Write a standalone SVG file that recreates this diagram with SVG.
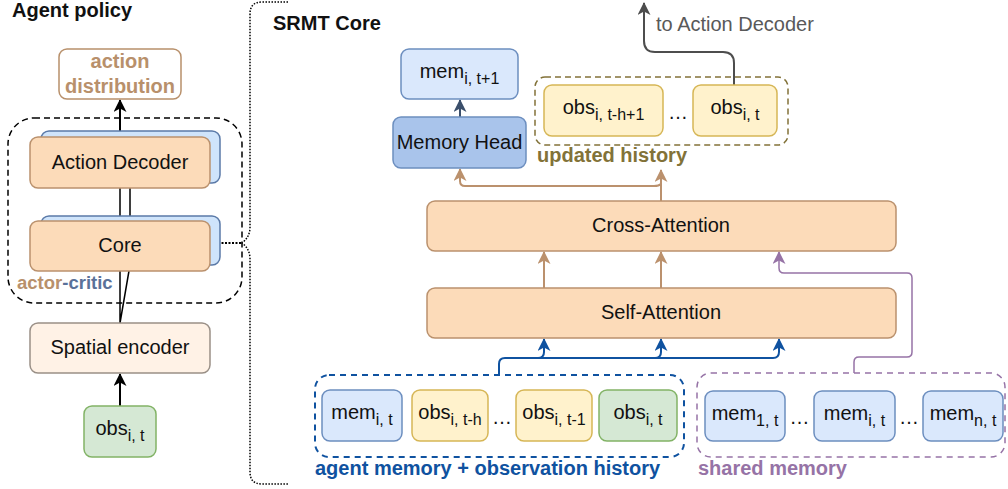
<svg xmlns="http://www.w3.org/2000/svg" width="1008" height="489" viewBox="0 0 1008 489">
<style>
text{font-family:"Liberation Sans",Arial,sans-serif;font-size:20px;fill:#111}
.b{font-weight:bold}
.c{text-anchor:middle}
.sub{font-size:16px}
.orange{fill:#fcdbb9;stroke:#ba916d;stroke-width:1.5}
.back{fill:#cfe4fb;stroke:#5b7aa8;stroke-width:1.5}
.mem{fill:#dae8fc;stroke:#6c8ebf;stroke-width:1.5}
.yel{fill:#fff2cc;stroke:#d6b656;stroke-width:1.5}
.grn{fill:#d5e8d4;stroke:#82b366;stroke-width:1.5}
.ln{fill:none;stroke-linejoin:round}
</style>
<defs>
<marker id="aBlack" viewBox="0 0 13 13" refX="12" refY="6.5" markerWidth="13" markerHeight="13" markerUnits="userSpaceOnUse" orient="auto"><path d="M0,0 L13,6.5 L0,13 L3.5,6.5 Z" fill="#000"/></marker>
<marker id="aTan" viewBox="0 0 13 13" refX="12" refY="6.5" markerWidth="13" markerHeight="13" markerUnits="userSpaceOnUse" orient="auto"><path d="M0,0 L13,6.5 L0,13 L3.5,6.5 Z" fill="#bb916d"/></marker>
<marker id="aBlue" viewBox="0 0 13 13" refX="12" refY="6.5" markerWidth="13" markerHeight="13" markerUnits="userSpaceOnUse" orient="auto"><path d="M0,0 L13,6.5 L0,13 L3.5,6.5 Z" fill="#0f52a0"/></marker>
<marker id="aPurple" viewBox="0 0 13 13" refX="12" refY="6.5" markerWidth="13" markerHeight="13" markerUnits="userSpaceOnUse" orient="auto"><path d="M0,0 L13,6.5 L0,13 L3.5,6.5 Z" fill="#9673a6"/></marker>
<marker id="aSlate" viewBox="0 0 13 13" refX="12" refY="6.5" markerWidth="13" markerHeight="13" markerUnits="userSpaceOnUse" orient="auto"><path d="M0,0 L13,6.5 L0,13 L3.5,6.5 Z" fill="#3b4f6b"/></marker>
<marker id="aGray" viewBox="0 0 13 13" refX="12" refY="6.5" markerWidth="13" markerHeight="13" markerUnits="userSpaceOnUse" orient="auto"><path d="M0,0 L13,6.5 L0,13 L3.5,6.5 Z" fill="#4d4d4d"/></marker>
</defs>

<!-- titles -->
<text class="b" x="12" y="17">Agent policy</text>
<text class="b" x="273" y="30">SRMT Core</text>

<!-- groupings -->
<g id="actor-critic-group">
<rect x="8" y="118" width="234" height="185" rx="26" fill="none" stroke="#000" stroke-width="1.5" stroke-dasharray="6 4"/>
<text class="b" x="17" y="289" style="font-size:18.5px"><tspan fill="#b8906b" style="fill:#b8906b">actor</tspan><tspan style="fill:#5a7199">-critic</tspan></text>
</g>
<g id="updated-history">
<rect x="535" y="77" width="253" height="68" rx="10" fill="none" stroke="#827238" stroke-width="1.5" stroke-dasharray="6 4"/>
<text class="b" x="537" y="161.5" style="fill:#827238">updated history</text>
</g>
<g id="agent-memory-group">
<rect x="315" y="375" width="369" height="82" rx="14" fill="none" stroke="#0f52a0" stroke-width="2" stroke-dasharray="6 5"/>
<text class="b" x="315" y="475" style="fill:#0f52a0">agent memory + observation history</text>
</g>
<g id="shared-memory-group">
<rect x="697" y="373" width="308" height="84" rx="14" fill="none" stroke="#9673a6" stroke-width="1.5" stroke-dasharray="6 5"/>
<text class="b" x="698" y="475" style="fill:#9673a6">shared memory</text>
</g>

<!-- connectors -->
<g id="connectors" class="ln">
<path d="M288,2 H262 Q250,2 250,14 V227 Q250,237 242,243 Q250,249 250,259 V472 Q250,484 262,484 H288" fill="none" stroke="#000" stroke-width="1.5" stroke-dasharray="1.5 1.5"/>
<path d="M218,243 H242" fill="none" stroke="#000" stroke-width="2" stroke-dasharray="2 1.5"/>
<path d="M120,137 V100" fill="none" stroke="#000" stroke-width="2" marker-end="url(#aBlack)"/>
<path d="M120,188 V221 M130,183 V216" fill="none" stroke="#000" stroke-width="1.5"/>
<path d="M120,323 V271 M120,323 L130,265" fill="none" stroke="#000" stroke-width="1.5"/>
<path d="M120,406 V374" fill="none" stroke="#000" stroke-width="2" marker-end="url(#aBlack)"/>
<path d="M460,117 V100" fill="none" stroke="#3b4f6b" stroke-width="2" marker-end="url(#aSlate)"/>
<path d="M734,85 V63 Q734,52 723,52 H655 Q644,52 644,41 V3" fill="none" stroke="#4d4d4d" stroke-width="2" marker-end="url(#aGray)"/>
<path d="M661,201 V170" fill="none" stroke="#bb916d" stroke-width="2" marker-end="url(#aTan)"/>
<path d="M661,184 Q659,186 654,186 H465 Q460,186 460,181 V169" fill="none" stroke="#bb916d" stroke-width="2" marker-end="url(#aTan)"/>
<path d="M544,288 V252" fill="none" stroke="#bb916d" stroke-width="2" marker-end="url(#aTan)"/>
<path d="M661,288 V252" fill="none" stroke="#bb916d" stroke-width="2" marker-end="url(#aTan)"/>
<path d="M854,373 V362 Q854,357 859,357 H907 Q912,357 912,352 V278 Q912,273 907,273 H784 Q779,273 779,268 V252" fill="none" stroke="#9673a6" stroke-width="1.5" marker-end="url(#aPurple)"/>
<path d="M499,375 V364 Q499,358 505,358 H773 Q779,358 779,352 V339" fill="none" stroke="#0f52a0" stroke-width="2" marker-end="url(#aBlue)"/>
<path d="M538,358 Q544,358 544,352 V339" fill="none" stroke="#0f52a0" stroke-width="2" marker-end="url(#aBlue)"/>
<path d="M655,358 Q661,358 661,352 V339" fill="none" stroke="#0f52a0" stroke-width="2" marker-end="url(#aBlue)"/>
</g>

<!-- left panel nodes -->
<g id="action-distribution">
<rect x="59" y="49" width="122" height="50" rx="8" fill="#fff" stroke="#b8906b" stroke-width="1.5"/>
<text class="b c" x="120" y="68" style="fill:#b8906b">action</text>
<text class="b c" x="120" y="92.5" style="fill:#b8906b">distribution</text>
</g>
<g id="action-decoder">
<rect class="back" x="41" y="131" width="179" height="52" rx="8"/>
<rect class="orange" x="30" y="137" width="180" height="51" rx="8"/>
<text class="c" x="120" y="169">Action Decoder</text>
</g>
<g id="core">
<rect class="back" x="41" y="216" width="179" height="49" rx="8"/>
<rect class="orange" x="30" y="221" width="180" height="50" rx="8"/>
<text class="c" x="120" y="252">Core</text>
</g>
<g id="spatial-encoder">
<rect x="30" y="323" width="180" height="50" rx="8" fill="#fff2e6" stroke="#9a9087" stroke-width="1.5"/>
<text class="c" x="120" y="354">Spatial encoder</text>
</g>
<g id="obs-left">
<rect class="grn" x="84" y="406" width="72" height="51" rx="8"/>
<text class="c" x="120" y="435">obs<tspan class="sub" dy="6">i, t</tspan></text>
</g>

<!-- SRMT core nodes -->
<g id="mem-next">
<rect class="mem" x="401" y="49" width="117" height="50" rx="8"/>
<text class="c" x="459.5" y="77.5">mem<tspan class="sub" dy="6">i, t+1</tspan></text>
</g>
<g id="memory-head">
<rect x="393" y="117" width="133" height="51" rx="8" fill="#a9c4eb" stroke="#6c8ebf" stroke-width="1.5"/>
<text class="c" x="459.5" y="149">Memory Head</text>
</g>
<g id="obs-hist-1">
<rect class="yel" x="544" y="85" width="119" height="51" rx="8"/>
<text class="c" x="603.5" y="114">obs<tspan class="sub" dy="6">i, t-h+1</tspan></text>
</g>
<text class="c" x="678" y="119">…</text>
<g id="obs-hist-2">
<rect class="yel" x="693" y="85" width="84" height="51" rx="8"/>
<text class="c" x="735" y="114">obs<tspan class="sub" dy="6">i, t</tspan></text>
</g>
<g id="cross-attention">
<rect class="orange" x="427" y="201" width="469" height="50" rx="8"/>
<text class="c" x="661" y="232">Cross-Attention</text>
</g>
<g id="self-attention">
<rect class="orange" x="427" y="288" width="469" height="50" rx="8"/>
<text class="c" x="661" y="319">Self-Attention</text>
</g>

<g id="mem-it">
<rect class="mem" x="322" y="390" width="80" height="51" rx="8"/>
<text class="c" x="362" y="419">mem<tspan class="sub" dy="6">i, t</tspan></text>
</g>
<g id="obs-t-h">
<rect class="yel" x="412" y="390" width="76" height="51" rx="8"/>
<text class="c" x="450" y="419">obs<tspan class="sub" dy="6">i, t-h</tspan></text>
</g>
<text class="c" x="502" y="424">…</text>
<g id="obs-t-1">
<rect class="yel" x="516" y="390" width="76" height="51" rx="8"/>
<text class="c" x="554" y="419">obs<tspan class="sub" dy="6">i, t-1</tspan></text>
</g>
<g id="obs-t">
<rect class="grn" x="599" y="390" width="78" height="51" rx="8"/>
<text class="c" x="638" y="419">obs<tspan class="sub" dy="6">i, t</tspan></text>
</g>
<g id="mem-1t">
<rect class="mem" x="705" y="391" width="80" height="50" rx="8"/>
<text class="c" x="745" y="419.5">mem<tspan class="sub" dy="6">1, t</tspan></text>
</g>
<text class="c" x="799.5" y="424">…</text>
<g id="mem-it-shared">
<rect class="mem" x="814" y="391" width="81" height="50" rx="8"/>
<text class="c" x="854.5" y="419.5">mem<tspan class="sub" dy="6">i, t</tspan></text>
</g>
<text class="c" x="909" y="424">…</text>
<g id="mem-nt">
<rect class="mem" x="923" y="391" width="80" height="50" rx="8"/>
<text class="c" x="963" y="419.5">mem<tspan class="sub" dy="6">n, t</tspan></text>
</g>

<text x="656" y="30.5" style="fill:#595959">to Action Decoder</text>
</svg>
